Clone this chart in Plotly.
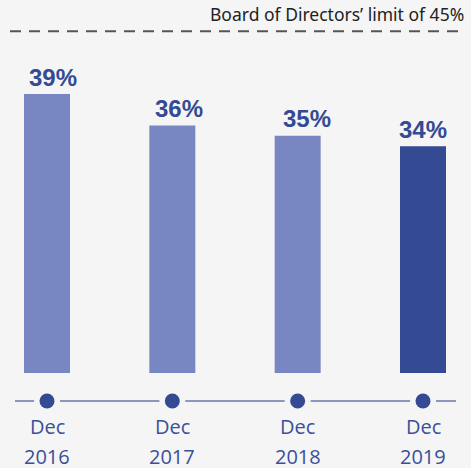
import plotly.graph_objects as go

categories_month = ["Dec", "Dec", "Dec", "Dec"]
categories_year = ["2016", "2017", "2018", "2019"]
values = [39, 36, 35, 34]
limit_value = 45
limit_label = "Board of Directors’ limit of 45%"

BG = "#f5f5f5"
LIGHT = "#7887c2"
DARK = "#344a93"
W, H = 471, 468
B_MARGIN = 95
PLOT_H = H - B_MARGIN
label_xshift = [6, 7, 9, 0]  # styling: value labels are slightly off-centre in the original

def py(pix):
    # pixel y from top -> paper y
    return (PLOT_H - pix) / PLOT_H

xs = list(range(len(values)))
colors = [LIGHT] * (len(values) - 1) + [DARK]

fig = go.Figure()
fig.add_trace(go.Bar(x=xs, y=values, marker=dict(color=colors, line=dict(width=0)),
                     width=0.367, hoverinfo="skip"))

# labels above bars
for x, v, dx in zip(xs, values, label_xshift):
    fig.add_annotation(x=x, y=v, xref="x", yref="y", text=f"<b>{v}%</b>",
                       showarrow=False, yanchor="bottom", yshift=1.5, xshift=dx,
                       font=dict(family="Liberation Sans", size=24, color=DARK))

# limit line
fig.add_shape(type="line", xref="paper", yref="y", x0=10 / W, x1=466 / W,
              y0=limit_value, y1=limit_value,
              line=dict(color="#555555", width=2, dash="11px,8px"))
fig.add_annotation(xref="paper", yref="paper", x=466 / W, y=py(14), xanchor="right",
                   yanchor="middle", text=limit_label, showarrow=False,
                   font=dict(family="Noto Sans", size=17.5, color="#222222"))

# timeline
ty = py(401)
fig.add_shape(type="line", xref="paper", yref="paper", x0=15 / W, x1=456 / W,
              y0=ty, y1=ty, line=dict(color="#8d97bd", width=2), layer="above")
for x in xs:
    fig.add_shape(type="circle", xref="x", yref="paper", xsizemode="pixel", ysizemode="pixel",
                  xanchor=x, yanchor=ty, x0=-13, x1=13, y0=-13, y1=13,
                  fillcolor=BG, line=dict(width=0), layer="above")
    fig.add_shape(type="circle", xref="x", yref="paper", xsizemode="pixel", ysizemode="pixel",
                  xanchor=x, yanchor=ty, x0=-7.5, x1=7.5, y0=-7.5, y1=7.5,
                  fillcolor=DARK, line=dict(width=0), layer="above")

tick_font = dict(family="Open Sans", size=20, color="#3b5099")
for x, m, yr in zip(xs, categories_month, categories_year):
    fig.add_annotation(x=x, xref="x", yref="paper", y=py(425.5), text=m, showarrow=False,
                       yanchor="middle", height=22, borderpad=0, font=tick_font)
    fig.add_annotation(x=x, xref="x", yref="paper", y=py(456), text=yr, showarrow=False,
                       yanchor="middle", height=22, borderpad=0, font=tick_font)

fig.update_layout(
    width=W, height=H, margin=dict(l=0, r=0, t=0, b=B_MARGIN),
    paper_bgcolor=BG, plot_bgcolor=BG, showlegend=False,
    xaxis=dict(range=[-0.375, 3.383], visible=False, fixedrange=True),
    yaxis=dict(range=[12.3, 48.0], visible=False, fixedrange=True),
)
fig.write_html("out.html", config={"displayModeBar": False},
               post_script="document.body.style.margin='0';document.body.style.overflow='hidden';"
                           "document.body.style.background='#f5f5f5';")
